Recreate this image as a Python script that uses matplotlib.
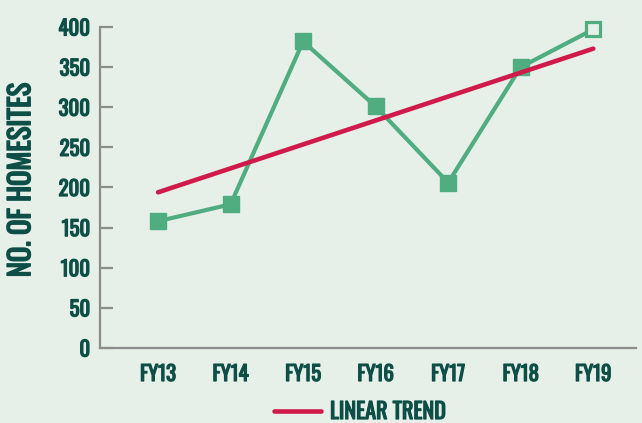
''' homesites per fiscal year with linear trend '''
import matplotlib.pyplot as plt
import matplotlib.patheffects as pe

# data
years = ['FY13', 'FY14', 'FY15', 'FY16', 'FY17', 'FY18', 'FY19']
homesites = [158, 179, 382, 301, 206, 350, 397]
trend_years = ['FY13', 'FY19']
trend_values = [194, 373]
y_ticks = [0, 50, 100, 150, 200, 250, 300, 350, 400]

bg = '#e6f0e8'
green = '#50ad7f'
red = '#d01a4a'
ink = '#0d4f47'
grey = '#8c8c8c'

plt.rcParams['font.family'] = ['Oswald', 'DejaVu Sans']

fig = plt.figure(figsize=(6.42, 4.23), dpi=100, facecolor=bg)
ax = fig.add_axes([0.1558, 0.1773, 0.8349, 0.7589], facecolor=bg)

pos = list(range(len(years)))
tpos = [years.index(y) for y in trend_years]

# green series, last point hollow
ax.plot(pos, homesites, color=green, lw=3, zorder=2, clip_on=False)
ax.plot(pos[:-1], homesites[:-1], 's', color=green, ms=11.5, zorder=3, clip_on=False)
ax.plot(pos[-1:], homesites[-1:], 's', mfc=bg, mec=green, mew=2.3, ms=10.5, zorder=3, clip_on=False)

# trend
ax.plot(tpos, trend_values, color=red, lw=3.3, solid_capstyle='round', zorder=4,
        clip_on=False, label='LINEAR TREND')

ax.set_xlim(-0.8, 6.59)
ax.set_ylim(0, 400)
ax.set_xticks(pos)
ax.set_xticklabels(years)
ax.set_yticks(y_ticks)

for s in ['top', 'right']:
    ax.spines[s].set_visible(False)
for s in ['left', 'bottom']:
    ax.spines[s].set_color(grey)
    ax.spines[s].set_linewidth(1.6)

ax.tick_params(axis='y', direction='in', length=9.5, width=1.6, color=grey,
               pad=7, labelsize=15, labelcolor=ink)
ax.tick_params(axis='x', length=0, pad=11.5, labelsize=15, labelcolor=ink)

# the font only comes in one weight, so thicken strokes a little
heavy = [pe.withStroke(linewidth=0.9, foreground=ink)]
for lab in ax.get_xticklabels() + ax.get_yticklabels():
    lab.set_path_effects(heavy)

ax.set_ylabel('NO. OF HOMESITES', fontsize=20.5, color=ink,
              path_effects=[pe.withStroke(linewidth=1.1, foreground=ink)])
ax.yaxis.set_label_coords(-0.121, 0.523)

leg = fig.legend(loc='center', bbox_to_anchor=(360 / 642, 1 - 412 / 423), frameon=False,
                 fontsize=16, labelcolor=ink, handlelength=2.1, handletextpad=0.4)
for t in leg.get_texts():
    t.set_path_effects(heavy)

fig.savefig('out.png', dpi=100, facecolor=bg)
